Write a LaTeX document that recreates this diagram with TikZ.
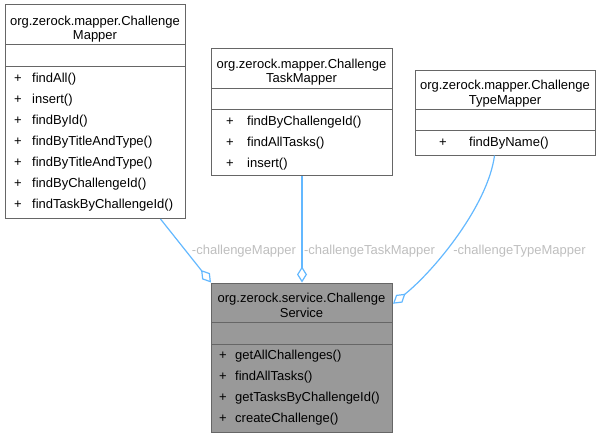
\documentclass[tikz,border=0pt]{standalone}
\usepackage{fontspec}
\setmainfont{Liberation Sans}
\usetikzlibrary{arrows.meta}
\definecolor{edgeblue}{HTML}{63B8FF}
\definecolor{boxborder}{HTML}{666666}
\definecolor{labelgray}{HTML}{BEBEBE}
\definecolor{svcfill}{HTML}{999999}
\begin{document}
\begin{tikzpicture}[x=1pt,y=-1pt,
  font=\fontsize{13}{15}\selectfont,
  classbox/.style={draw=boxborder, line width=1pt, fill=white, inner sep=0pt, anchor=north west},
  divider/.style={draw=boxborder, line width=1pt},
  txt/.style={inner sep=0pt, anchor=base},
  mtxt/.style={inner sep=0pt, anchor=base west},
  rolelabel/.style={inner sep=0pt, anchor=base, text=labelgray},
  assoc/.style={draw=edgeblue, line width=1.2pt, -{Diamond[open, length=16pt, width=10pt]}}]
\useasboundingbox (0,0) rectangle (602,437);

% ---- Class A: ChallengeMapper ----
\node[classbox, minimum width=180pt, minimum height=214pt] (A) at (5,4) {};
\draw[divider] (5,44) -- (185,44);
\draw[divider] (5,66) -- (185,66);
\node[txt] (A-h1) at (95,25) {org.zerock.mapper.Challenge};
\node[txt] (A-h2) at (95,39.5) {Mapper};
\foreach \i/\m in {0/findAll(),1/insert(),2/findById(),3/findByTitleAndType(),4/findByTitleAndType(),5/findByChallengeId(),6/findTaskByChallengeId()}{
  \node[txt] (A-p\i) at (18,82.6+21*\i) {+};
  \node[mtxt] (A-m\i) at (32,82.6+21*\i) {\m};
}

% ---- Class B: ChallengeTaskMapper ----
\node[classbox, minimum width=181pt, minimum height=127pt] (B) at (211,48) {};
\draw[divider] (211,88) -- (392,88);
\draw[divider] (211,109) -- (392,109);
\node[txt] (B-h1) at (301.5,68) {org.zerock.mapper.Challenge};
\node[txt] (B-h2) at (301.5,82.5) {TaskMapper};
\foreach \i/\m in {0/findByChallengeId(),1/findAllTasks(),2/insert()}{
  \node[txt] (B-p\i) at (230,125+21*\i) {+};
  \node[mtxt] (B-m\i) at (247,125+21*\i) {\m};
}

% ---- Class C: ChallengeTypeMapper ----
\node[classbox, minimum width=180pt, minimum height=85pt] (C) at (415,69.5) {};
\draw[divider] (415,109.5) -- (595,109.5);
\draw[divider] (415,130) -- (595,130);
\node[txt] (C-h1) at (505,89.5) {org.zerock.mapper.Challenge};
\node[txt] (C-h2) at (505,104) {TypeMapper};
\node[txt] (C-p0) at (443,146.5) {+};
\node[mtxt] (C-m0) at (469,146.5) {findByName()};

% ---- Class D: ChallengeService ----
\node[classbox, fill=svcfill, minimum width=181pt, minimum height=149.5pt] (D) at (211,282.5) {};
\draw[divider] (211,322.5) -- (392,322.5);
\draw[divider] (211,344) -- (392,344);
\node[txt] (D-h1) at (301.5,302.5) {org.zerock.service.Challenge};
\node[txt] (D-h2) at (301.5,317) {Service};
\foreach \i/\m in {0/getAllChallenges(),1/findAllTasks(),2/getTasksByChallengeId(),3/createChallenge()}{
  \node[txt] (D-p\i) at (223,359.5+21*\i) {+};
  \node[mtxt] (D-m\i) at (235,359.5+21*\i) {\m};
}

% ---- Connectors ----
\draw[assoc] ([xshift=65pt]A.south) -- (D.north west);
\draw[assoc] (B.south) -- (D.north);
\draw[assoc] ([xshift=-11pt]C.south) .. controls (488,205) and (435,270) .. ([yshift=54pt]D.east);

% ---- Role labels ----
\node[rolelabel] (L1) at (244,254) {-challengeMapper};
\node[rolelabel] (L2) at (369.5,254) {-challengeTaskMapper};
\node[rolelabel] (L3) at (519.5,254) {-challengeTypeMapper};
\end{tikzpicture}
\end{document}
